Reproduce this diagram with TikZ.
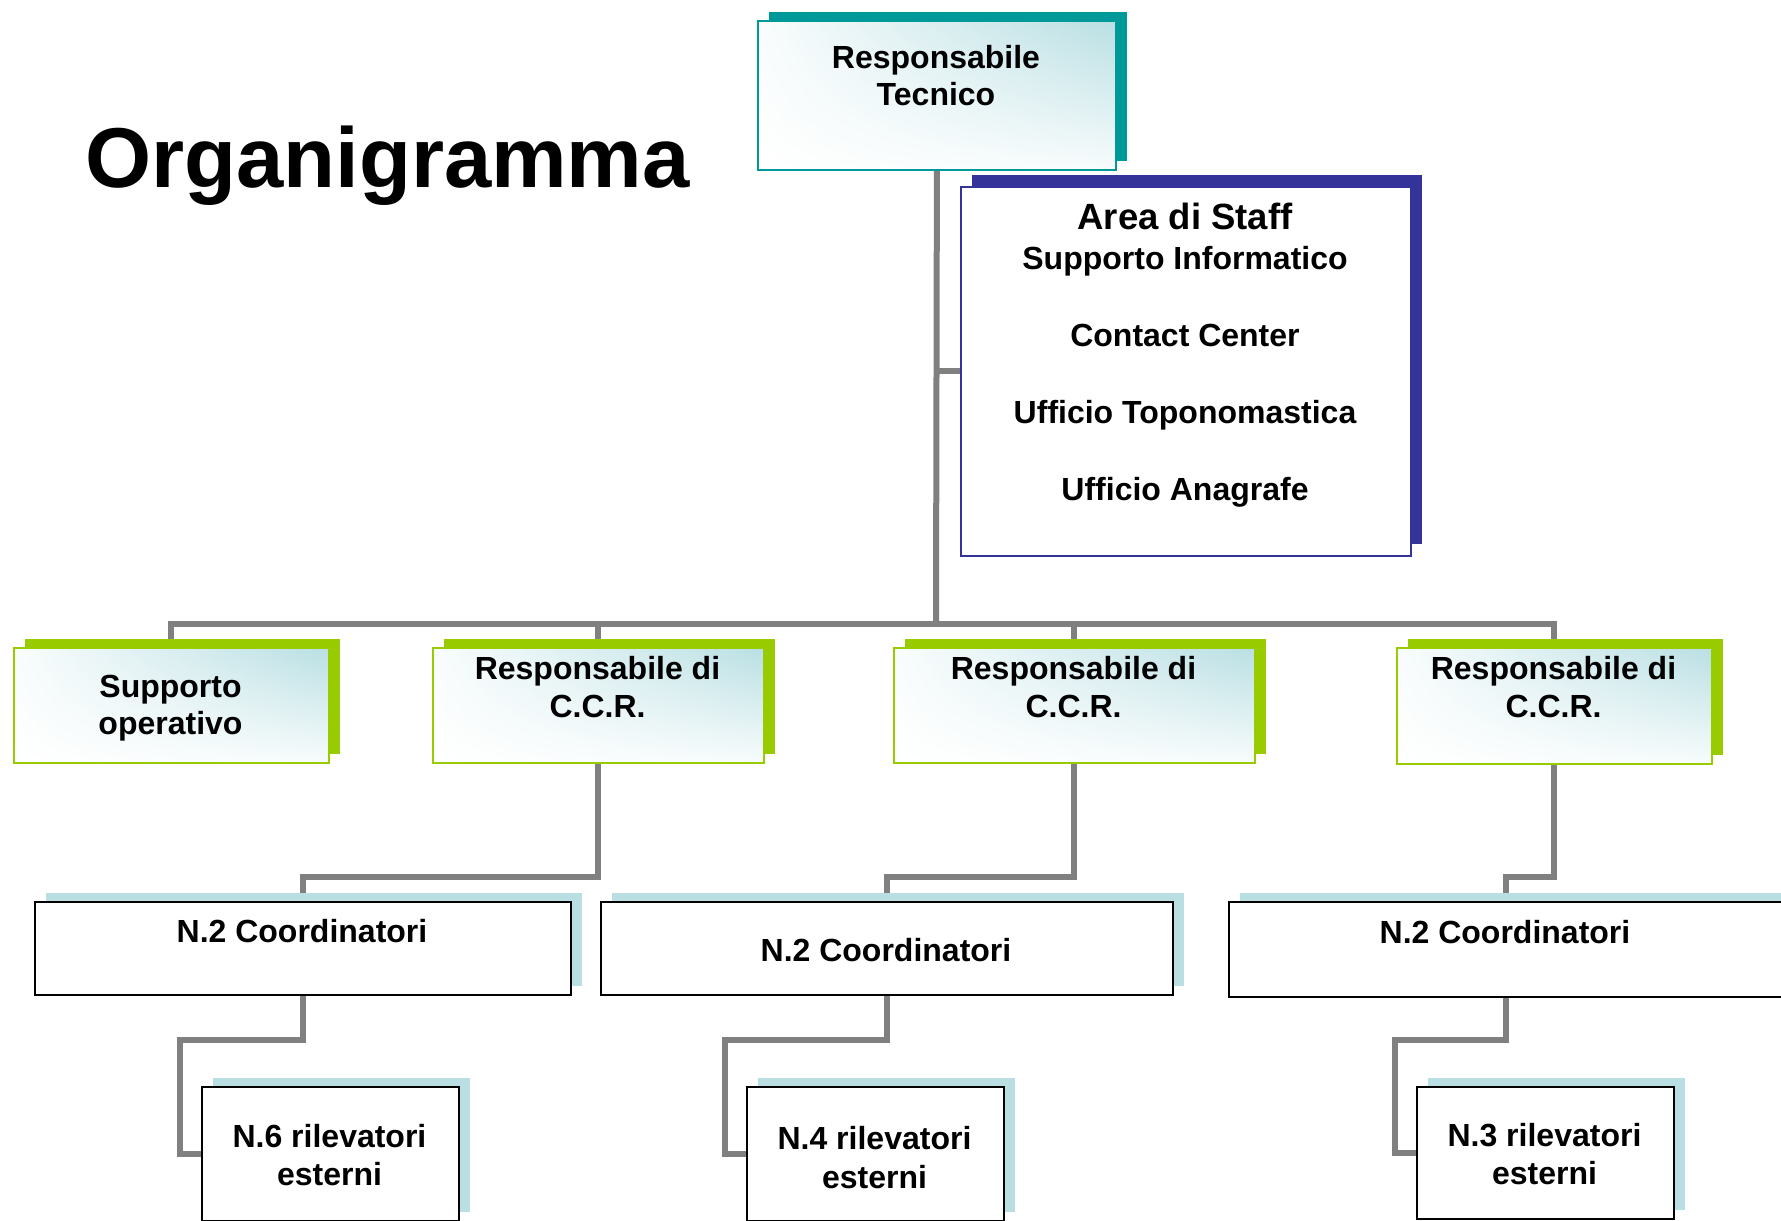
\documentclass[tikz,border=0pt]{standalone}
\usepackage{fontspec}
\setmainfont{Liberation Sans}
\usetikzlibrary{shadows,shadings,calc}
\definecolor{cteal}{HTML}{009999}
\definecolor{cgreen}{HTML}{99CC00}
\definecolor{clb}{HTML}{B9DFE3}
\definecolor{cnavy}{HTML}{333399}
\definecolor{cgray}{HTML}{808080}
\pgfdeclarelayer{background}
\pgfsetlayers{background,main}
\tikzset{
  conn/.style={draw=cgray, line width=6pt},
  boxbase/.style={rectangle, inner sep=0pt, anchor=north west},
  gradfill/.style={shade, shading=bilinear interpolation, upper left=clb!8, upper right=clb, lower left=white, lower right=clb!10},
  tealbox/.style={boxbase, draw=cteal, line width=1.8pt, gradfill,
    general shadow={fill=cteal, shadow xshift=11pt, shadow yshift=9pt}},
  greenbox/.style={boxbase, draw=cgreen, line width=1.8pt, gradfill,
    general shadow={fill=cgreen, shadow xshift=11pt, shadow yshift=9pt}},
  staffbox/.style={boxbase, draw=cnavy, line width=1.8pt, fill=white,
    general shadow={fill=cnavy, shadow xshift=11pt, shadow yshift=12pt}},
  whitebox/.style={boxbase, draw=black, line width=2pt, fill=white,
    general shadow={fill=clb, shadow xshift=11pt, shadow yshift=9pt}},
  txt/.style={anchor=base, inner sep=0pt, font=\bfseries\fontsize{32}{38}\selectfont},
  bigtxt/.style={anchor=base, inner sep=0pt, font=\bfseries\fontsize{36.5}{42}\selectfont},
  titletxt/.style={anchor=base west, inner sep=0pt, font=\bfseries\fontsize{85}{95}\selectfont}
}
\begin{document}
\begin{tikzpicture}[x=1pt, y=-1pt]
\useasboundingbox (0,0) rectangle (1781,1221);
\clip (0,0) rectangle (1781,1221);

% title
\node[titletxt] (title) at (85,187) {Organigramma};

% boxes
\node[tealbox, minimum width=358pt, minimum height=149pt] (top) at (757,20) {};
\node[staffbox, minimum width=450pt, minimum height=369pt] (staff) at (960,186) {};

\node[greenbox, minimum width=315pt, minimum height=115pt] (supp) at (13,647) {};
\node[greenbox, minimum width=331pt, minimum height=115pt] (ccr1) at (432,647) {};
\node[greenbox, minimum width=361pt, minimum height=115pt] (ccr2) at (893,647) {};
\node[greenbox, minimum width=315pt, minimum height=116pt] (ccr3) at (1396,647) {};

\node[whitebox, minimum width=536pt, minimum height=93pt] (coord1) at (34,901) {};
\node[whitebox, minimum width=572pt, minimum height=93pt] (coord2) at (600,901) {};
\node[whitebox, minimum width=554pt, minimum height=95pt] (coord3) at (1228,901) {};

\node[whitebox, minimum width=257pt, minimum height=134pt] (ril1) at (201,1086) {};
\node[whitebox, minimum width=257pt, minimum height=134pt] (ril2) at (746,1086) {};
\node[whitebox, minimum width=257pt, minimum height=132pt] (ril3) at (1416,1086) {};

% texts
\node[txt] (ttop1) at (936,68) {Responsabile};
\node[txt] (ttop2) at (936,105.5) {Tecnico};

\node[bigtxt] (ts1) at (1185,229) {Area di Staff};
\node[txt] (ts2) at (1185,269) {Supporto Informatico};
\node[txt] (ts3) at (1185,346.5) {Contact Center};
\node[txt] (ts4) at (1185,423.5) {Ufficio Toponomastica};
\node[txt] (ts5) at (1185,500.5) {Ufficio Anagrafe};

\node[txt] (tsu1) at (170.5,697) {Supporto};
\node[txt] (tsu2) at (170.5,734) {operativo};

\node[txt] (tc11) at (597.5,679) {Responsabile di};
\node[txt] (tc12) at (597.5,717) {C.C.R.};
\node[txt] (tc21) at (1073.5,679) {Responsabile di};
\node[txt] (tc22) at (1073.5,717) {C.C.R.};
\node[txt] (tc31) at (1553.5,679) {Responsabile di};
\node[txt] (tc32) at (1553.5,717) {C.C.R.};

\node[txt] (tco1) at (302,942) {N.2 Coordinatori};
\node[txt] (tco2) at (886,961) {N.2 Coordinatori};
\node[txt] (tco3) at (1505,943) {N.2 Coordinatori};

\node[txt] (tr11) at (329.5,1147) {N.6 rilevatori};
\node[txt] (tr12) at (329.5,1185) {esterni};
\node[txt] (tr21) at (874.5,1149.5) {N.4 rilevatori};
\node[txt] (tr22) at (874.5,1188) {esterni};
\node[txt] (tr31) at (1544.5,1146) {N.3 rilevatori};
\node[txt] (tr32) at (1544.5,1184.5) {esterni};

% connectors
\coordinate (bus) at (936,624);
\begin{pgfonlayer}{background}
\draw[conn] (top.south) -- (bus);
\draw[conn] (staff.west) -- (staff.west -| bus);
\draw[conn] (supp.north) |- (ccr3.north |- bus) -- (ccr3.north);
\draw[conn] (ccr1.north) -- (ccr1.north |- bus);
\draw[conn] (ccr2.north) -- (ccr2.north |- bus);

\draw[conn] (ccr1.south) -- (ccr1.south |- 0,877) -| (coord1.north);
\draw[conn] (ccr2.south) -- (ccr2.south |- 0,877) -| (coord2.north);
\draw[conn] (ccr3.south) -- (ccr3.south |- 0,877) -| (coord3.north);

\draw[conn] (coord1.south) -- (coord1.south |- 0,1039.5) -| ([xshift=-21pt]ril1.west) -- (ril1.west);
\draw[conn] (coord2.south) -- (coord2.south |- 0,1039.5) -| ([xshift=-21pt]ril2.west) -- (ril2.west);
\draw[conn] (coord3.south) -- (coord3.south |- 0,1039.5) -| ([xshift=-21pt]ril3.west) -- (ril3.west);
\end{pgfonlayer}
\end{tikzpicture}
\end{document}
